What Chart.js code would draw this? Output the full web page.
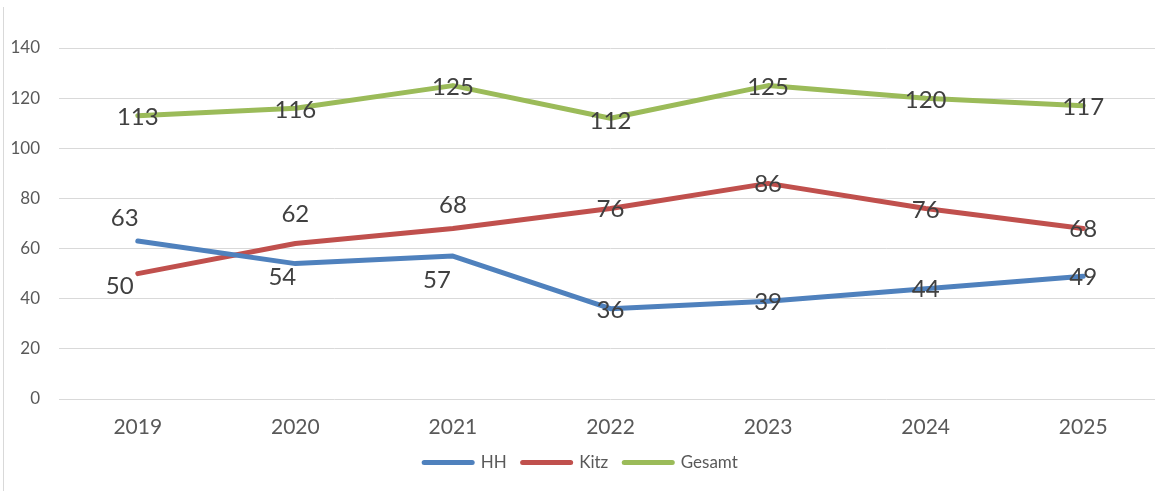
<!DOCTYPE html>
<html lang="de">
<head>
<meta charset="UTF-8">
<title>HH / Kitz / Gesamt</title>
<script src="https://cdn.jsdelivr.net/npm/chart.js@4/dist/chart.umd.min.js"></script>
<style>
  html, body { margin: 0; padding: 0; background: #fff; overflow: hidden; }
  .frame { position: absolute; left: 3px; top: 7px; width: 0; height: 484px; border-left: 1px solid #d9d9d9; }
  .wrap { position: absolute; left: 0; top: 0; width: 1175px; height: 491px; }
</style>
</head>
<body>
<div class="wrap"><canvas id="chart" width="1175" height="491"></canvas></div>
<div class="frame"></div>
<script>
// data
const years = ['2019', '2020', '2021', '2022', '2023', '2024', '2025'];
const hh = [63, 54, 57, 36, 39, 44, 49];
const kitz = [50, 62, 68, 76, 86, 76, 68];
const gesamt = [113, 116, 125, 112, 125, 120, 117];
const yTicks = [0, 20, 40, 60, 80, 100, 120, 140];

// label nudges (px), like the hand-moved labels in the original
const hhOff = [[-13, -23], [-13, 14], [-16, 24], [0, 2], [0, 1], [0, 1], [0, 1]];
const kitzOff = [[-18, 13], [0, -29], [0, -23], [0, 1], [0, 1], [0, 2], [0, 1]];
const gesOff = [[0, 2], [0, 2], [0, 2], [0, 3], [0, 2], [0, 2], [0, 2]];

const labelPlugin = {
  id: 'pointLabels',
  afterDatasetsDraw(chart) {
    const ctx = chart.ctx;
    const offs = [hhOff, kitzOff, gesOff];
    ctx.save();
    ctx.font = '24px Lato';
    ctx.fillStyle = '#404040';
    ctx.textAlign = 'center';
    ctx.textBaseline = 'middle';
    chart.data.datasets.forEach((ds, di) => {
      const meta = chart.getDatasetMeta(di);
      meta.data.forEach((pt, i) => {
        ctx.fillText(String(ds.data[i]), pt.x + offs[di][i][0], pt.y + offs[di][i][1]);
      });
    });
    ctx.restore();
  }
};

new Chart(document.getElementById('chart'), {
  type: 'line',
  data: {
    labels: years,
    datasets: [
      { label: 'HH', data: hh, borderColor: '#4f81bd', backgroundColor: '#4f81bd' },
      { label: 'Kitz', data: kitz, borderColor: '#c0504d', backgroundColor: '#c0504d' },
      { label: 'Gesamt', data: gesamt, borderColor: '#9bbb59', backgroundColor: '#9bbb59' }
    ]
  },
  options: {
    responsive: false,
    animation: false,
    devicePixelRatio: 1,
    layout: { padding: { top: 48, right: 13, bottom: 10, left: 0 } },
    elements: {
      line: { borderWidth: 5, tension: 0, borderCapStyle: 'round', borderJoinStyle: 'round' },
      point: { radius: 0, hoverRadius: 0 }
    },
    scales: {
      x: {
        offset: true,
        afterFit(scale) { scale.height = 39; },
        grid: { display: false, drawTicks: false },
        border: { display: false },
        ticks: { color: '#595959', font: { family: 'Lato', size: 21 }, padding: 16, maxRotation: 0 }
      },
      y: {
        min: 0,
        max: 140,
        afterBuildTicks(scale) { scale.ticks = yTicks.map(v => ({ value: v })); },
        afterFit(scale) { scale.width = 59; },
        grid: { color: '#d9d9d9', lineWidth: 1, drawTicks: false },
        border: { display: false },
        ticks: { color: '#595959', font: { family: 'Lato', size: 17 }, padding: 19 }
      }
    },
    plugins: {
      legend: {
        position: 'bottom',
        labels: {
          usePointStyle: true,
          pointStyle: 'line',
          pointStyleWidth: 48,
          color: '#595959',
          font: { family: 'Lato', size: 17 },
          padding: 16,
          generateLabels(chart) {
            const items = Chart.defaults.plugins.legend.labels.generateLabels(chart);
            items.forEach(it => { it.lineWidth = 5; it.lineCap = 'round'; });
            return items;
          }
        }
      },
      tooltip: { enabled: false }
    }
  },
  plugins: [labelPlugin]
});
</script>
</body>
</html>
